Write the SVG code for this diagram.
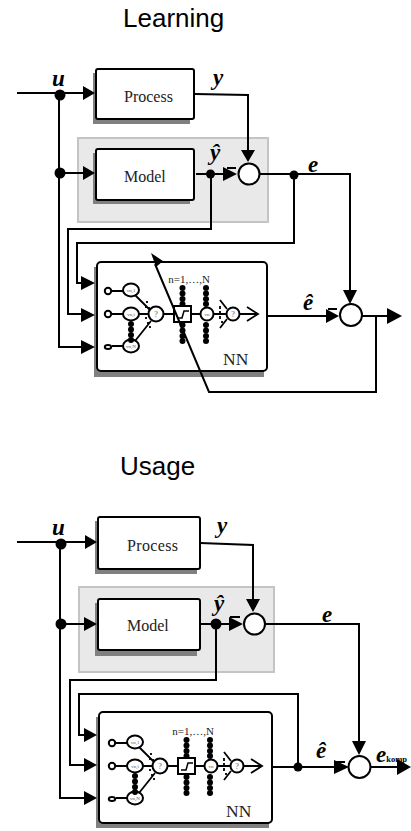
<svg xmlns="http://www.w3.org/2000/svg" width="411" height="831" viewBox="0 0 411 831">
<style>
.t{font-family:"Liberation Sans",Arial,sans-serif;font-size:26px;fill:#000}
.s{font-family:"Liberation Serif","Times New Roman",serif;fill:#222}
.v{font-family:"Liberation Serif","Times New Roman",serif;font-weight:bold;font-style:italic;font-size:23px;fill:#000}
.w{fill:none;stroke:#000;stroke-width:2}
.b{fill:#fff;stroke:#000;stroke-width:2}
.sh{fill:#808080}
.panel{fill:#e9e9e9;stroke:#c4c4c4;stroke-width:2}
.d{fill:#000}
.n{fill:#fff;stroke:#000;stroke-width:2}
.m{fill:none;stroke:#000;stroke-width:1.8}
.tiny{font-family:"Liberation Serif",serif;font-size:5px;fill:#555;text-anchor:middle}
</style>
<defs>
<g id="dots"><circle cx="0" cy="0" r="3" class="d"/><circle cx="0" cy="5.5" r="3" class="d"/><circle cx="0" cy="11" r="3" class="d"/><circle cx="0" cy="16" r="3" class="d"/></g>
<g id="net">
<path class="m" d="M12 30H23M12 53H23M12 85H23M35 34L51 50M35 53H48M35 80L51 60M64 53H74M91 53H100M114 53H126M120 39L127 48M120 67L127 58M140 53H158M147 46L158 53L147 60"/>
<circle class="n" cx="8" cy="30" r="3.2"/><circle class="n" cx="8" cy="53" r="3.2"/><ellipse class="n" cx="8" cy="86" rx="3.2" ry="2"/>
<ellipse class="n" cx="31" cy="29" rx="8" ry="6.5"/><ellipse class="n" cx="31" cy="53" rx="8" ry="6.5"/><ellipse class="n" cx="31" cy="85" rx="8" ry="6.5"/>
<circle class="n" cx="56" cy="53" r="7.5"/><rect x="74" y="45" width="17" height="16" fill="#fff" stroke="#000" stroke-width="2"/>
<path d="M77 57H82L84 50H89" fill="none" stroke="#000" stroke-width="1.5"/>
<circle class="n" cx="107" cy="53" r="6.5"/><circle class="n" cx="133" cy="53" r="6.5"/>
<text class="tiny" x="31" y="31">vn,1</text><text class="tiny" x="31" y="55">vn,i</text><text class="tiny" x="31" y="87">vn,N</text><text class="tiny" x="107" y="55">vn</text>
<text class="tiny" x="56" y="56" style="font-size:8px">?</text><text class="tiny" x="133" y="56" style="font-size:8px">?</text>
<use href="#dots" x="31" y="63"/><use href="#dots" x="82.500" y="27"/><use href="#dots" x="82.500" y="64"/><use href="#dots" x="106" y="27"/><use href="#dots" x="106" y="64"/>
<path d="M47 40V42M49 46V48M46 45V47M46 56V58M48 61V63M50 65V67M120 45V48M120 50V53M120 55V58M122 60V62" stroke="#000" stroke-width="1.8" fill="none"/>
<text class="s" x="89" y="22" style="font-size:11px" text-anchor="middle">n=1,…,N</text>
</g>
</defs>
<g id="title-learning"><text class="t" x="123" y="27">Learning</text></g>
<g id="title-usage"><text class="t" x="120" y="475">Usage</text></g>

<g id="model-panel-top"><rect class="panel" x="78" y="138" width="190" height="84"/></g>
<g id="model-panel-bottom"><rect class="panel" x="79" y="587" width="195" height="85"/></g>

<g id="process-top"><rect class="sh" x="93" y="73" width="97" height="51"/><rect class="b" x="96" y="69" width="98" height="50" rx="2"/><text class="s" x="124" y="102" font-size="16">Process</text></g>
<g id="model-top"><rect class="sh" x="93" y="153" width="97" height="51"/><rect class="b" x="96" y="149" width="98" height="51" rx="2"/><text class="s" x="124" y="182" font-size="16">Model</text></g>
<g id="nn-top"><rect class="sh" x="94" y="267" width="170" height="110"/><rect class="b" x="97" y="262" width="170" height="109" rx="4"/><use href="#net" x="100" y="261"/><text class="s" x="223" y="365" font-size="17.500" fill="#333">NN</text></g>
<g id="process-bottom"><rect class="sh" x="95" y="521" width="102" height="53"/><rect class="b" x="98" y="517" width="102" height="52" rx="2"/><text class="s" x="127" y="551" font-size="16" textLength="51">Process</text></g>
<g id="model-bottom"><rect class="sh" x="95" y="603" width="102" height="53"/><rect class="b" x="98" y="599" width="102" height="51" rx="2"/><text class="s" x="127" y="631" font-size="16">Model</text></g>
<g id="nn-bottom"><rect class="sh" x="96" y="717" width="173" height="111"/><rect class="b" x="99" y="712" width="173" height="111" rx="4"/><use href="#net" x="104" y="713"/><text class="s" x="226" y="817" font-size="17.500" fill="#333">NN</text></g>

<g id="connectors">
<path class="w" d="M17 93H84M59 95V347H82M60 173H84M195 94L248 95V151M196 174H226M211 174V229H68V314H82M260 174H350V291M294 175V243H77V283H82M268 316H327M362 316H388M376 316V392H209L155 264"/>
<path class="d" d="M95 93L83 86V100ZM95 173L83 166V180ZM248 162L241 150H255ZM237 174L223 167V181ZM350 304L343 290H357ZM95 283L81 276V290ZM95 315L81 308V322ZM95 347L81 340V354ZM339 316L326 309V323ZM402 316L387 308V324ZM151 253L163 261L156 267Z"/>
<path class="w" d="M227 168H236M328 309H337M230 617H240M335 762H345"/>
<circle class="d" cx="60" cy="95" r="5.500"/><circle class="d" cx="60" cy="173" r="5.500"/><circle class="d" cx="210.500" cy="174" r="4.500"/><circle class="d" cx="294" cy="175" r="4.500"/>
<path class="w" d="M17 542H86M60 544V798H84M61 624H86M200 543L253 545V601M200 624H232M216 624V680H70V765H84M265 624H359V742M298 767V694H79V735H86M272 767H335M370 767H398"/>
<path class="d" d="M97 542L85 535V549ZM97 624L84 617V631ZM253 612L246 599H260ZM243 624L229 617V631ZM359 755L352 741H366ZM97 735L84 728V742ZM97 765L84 758V772ZM97 798L84 791V805ZM349 767L334 760V774ZM411 767L397 759V775Z"/>
<circle class="d" cx="61" cy="544" r="5.500"/><circle class="d" cx="61" cy="624" r="5.500"/><circle class="d" cx="216" cy="624" r="5.500"/><circle class="d" cx="298" cy="767" r="4.500"/>
</g>
<g id="sum-top-1"><circle class="b" cx="249" cy="174" r="10.500"/></g>
<g id="sum-top-2"><circle class="b" cx="351" cy="315" r="11"/></g>
<g id="sum-bottom-1"><circle class="b" cx="254.500" cy="624" r="10.500"/></g>
<g id="sum-bottom-2"><circle class="b" cx="359.500" cy="767" r="11"/></g>
<g id="labels">
<text class="v" x="52" y="86">u</text><text class="v" x="213" y="85">y</text><text class="v" x="210" y="160">ŷ</text><text class="v" x="308" y="172">e</text><text class="v" x="303" y="310">ê</text>
<text class="v" x="52" y="535">u</text><text class="v" x="217" y="533">y</text><text class="v" x="214" y="611">ŷ</text><text class="v" x="322" y="622">e</text><text class="v" x="316" y="758">ê</text>
<text class="v" x="376" y="762">e<tspan style="font-size:8.500px;font-style:normal">komp</tspan></text>
</g>
</svg>
